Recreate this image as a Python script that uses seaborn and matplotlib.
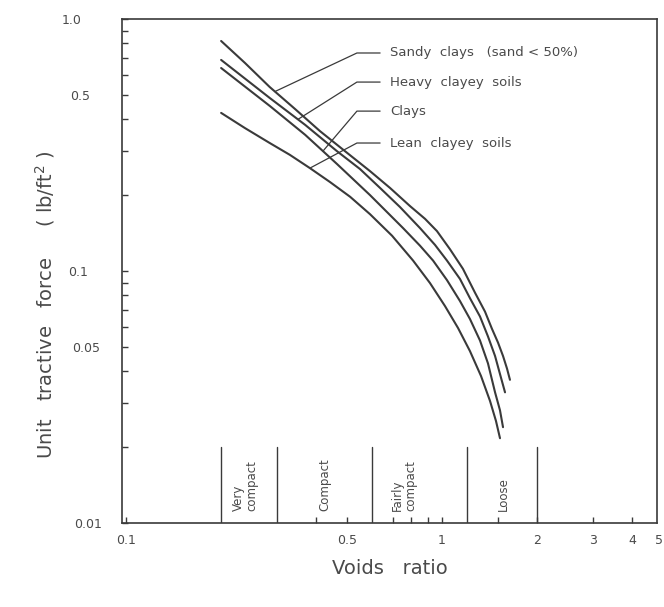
import numpy as np
import pandas as pd
import matplotlib
matplotlib.use("Agg")
import matplotlib.pyplot as plt
import seaborn as sns

# Permissible unit tractive force vs. voids ratio for cohesive soils
soil_names = [
    "Sandy  clays   (sand < 50%)",
    "Heavy  clayey  soils",
    "Clays",
    "Lean  clayey  soils",
]

sandy_ratio = [0.20, 0.238, 0.285, 0.343, 0.411, 0.493, 0.592, 0.685, 0.792, 0.884,
               0.964, 1.060, 1.165, 1.272, 1.368, 1.439, 1.504, 1.560, 1.606, 1.641]
sandy_force = [0.818, 0.669, 0.537, 0.439, 0.359, 0.299, 0.249, 0.2135, 0.181, 0.161,
               0.144, 0.122, 0.102, 0.082, 0.069, 0.059, 0.052, 0.046, 0.041, 0.037]

heavy_ratio = [0.20, 0.285, 0.369, 0.465, 0.550, 0.637, 0.736, 0.852, 0.950, 1.037,
               1.140, 1.226, 1.319, 1.398, 1.472, 1.526, 1.583]
heavy_force = [0.688, 0.486, 0.380, 0.299, 0.254, 0.2135, 0.1795, 0.148, 0.127, 0.110,
               0.093, 0.078, 0.066, 0.055, 0.046, 0.039, 0.033]

clays_ratio = [0.20, 0.285, 0.369, 0.465, 0.592, 0.753, 0.852, 0.937, 1.037, 1.140,
               1.226, 1.319, 1.398, 1.472, 1.526, 1.560]
clays_force = [0.639, 0.452, 0.347, 0.266, 0.200, 0.148, 0.126, 0.110, 0.092, 0.076,
               0.0645, 0.053, 0.043, 0.033, 0.028, 0.024]

lean_ratio = [0.20, 0.238, 0.285, 0.330, 0.382, 0.442, 0.512, 0.592, 0.695, 0.810,
              0.916, 1.022, 1.124, 1.226, 1.329, 1.419, 1.482, 1.526]
lean_force = [0.424, 0.369, 0.322, 0.289, 0.256, 0.2255, 0.197, 0.168, 0.138, 0.110,
              0.0896, 0.0726, 0.0594, 0.0481, 0.0383, 0.0305, 0.0254, 0.0217]

# compaction classes along the voids-ratio axis
zone_edges = [0.2, 0.3, 0.6, 1.2, 2.0]
zone_names = ["Very\ncompact", "Compact", "Fairly\ncompact", "Loose"]

x_ticks = [0.1, 0.4, 0.5, 0.7, 0.8, 0.9, 1.0, 1.5, 2, 3, 4]
x_tick_labels = ["0.1", "", "0.5", "", "", "", "1", "", "2", "3", "4"]
y_ticks = [0.01, 0.05, 0.1, 0.5, 1.0]
y_tick_labels = ["0.01", "0.05", "0.1", "0.5", "1.0"]

ratios = [sandy_ratio, heavy_ratio, clays_ratio, lean_ratio]
forces = [sandy_force, heavy_force, clays_force, lean_force]
frames = [pd.DataFrame({"soil": n, "voids": r, "force": f})
          for n, r, f in zip(soil_names, ratios, forces)]
df = pd.concat(frames, ignore_index=True)

sns.set_style("ticks")
plt.rcParams["font.family"] = ["DejaVu Sans"]
ink = "#3a3a3a"
text_ink = "#4a4a4a"

fig = plt.figure(figsize=(6.64, 6.07), dpi=100)
ax = fig.add_axes([0.1837, 0.1384, 0.8057, 0.8303])

sns.lineplot(data=df, x="voids", y="force", hue="soil", palette=[ink] * 4,
             sort=False, estimator=None, legend=False, linewidth=1.5, ax=ax)

ax.set_xscale("log")
ax.set_yscale("log")
ax.set_xlim(0.0971, 4.79)
ax.set_ylim(0.01, 1.0)

# vertical class dividers and their rotated labels
zone_top = 0.02
for xe in zone_edges:
    ax.plot([xe, xe], [0.01, zone_top], color=ink, lw=1.0)
zone_label_x = [0.238, 0.426, 0.76, 1.56]
for xl, name in zip(zone_label_x, zone_names):
    ax.text(xl, 0.0112, name, rotation=90, ha="center", va="bottom",
            multialignment="left", fontsize=8.5, color=text_ink, linespacing=1.1)

# leader lines from curve labels
label_y = [0.733, 0.562, 0.431, 0.322]
leader_x = [0.296, 0.350, 0.420, 0.382]
elbow_x, arm_x, text_x = 0.538, 0.637, 0.684
for name, r, f, ly, lx in zip(soil_names, ratios, forces, label_y, leader_x):
    cy = 10 ** np.interp(np.log10(lx), np.log10(r), np.log10(f))
    ax.plot([lx, elbow_x, arm_x], [cy, ly, ly], color=ink, lw=0.9)
    ax.text(text_x, ly, name, ha="left", va="center", fontsize=9.5,
            color=text_ink)

# axes frame and ticks
for sp in ax.spines.values():
    sp.set_color(ink)
    sp.set_linewidth(1.2)

ax.xaxis.set_minor_locator(matplotlib.ticker.NullLocator())
ax.yaxis.set_minor_locator(matplotlib.ticker.NullLocator())
ax.set_xticks(x_ticks)
ax.set_xticklabels(x_tick_labels)
ax.set_yticks(y_ticks)
ax.set_yticklabels(y_tick_labels)
ax.set_yticks([0.02, 0.03, 0.04, 0.06, 0.07, 0.08, 0.09,
               0.2, 0.3, 0.4, 0.6, 0.7, 0.8, 0.9], minor=True)
ax.tick_params(axis="both", which="both", direction="in", length=4,
               width=1.0, color=ink, labelsize=9, labelcolor=text_ink)
ax.tick_params(axis="x", pad=8)
for tick, pad in zip(ax.yaxis.get_major_ticks(), [14.5, 16, 24.5, 23, 29]):
    tick.set_pad(pad)

ax.annotate("5", xy=(5.0, 0.01), xytext=(-3, -8), textcoords="offset points",
            ha="center", va="top", fontsize=9, color=text_ink,
            annotation_clip=False)

ax.set_xlabel("")
ax.set_ylabel("")
fig.text(0.587, 0.064, "Voids   ratio", ha="center", va="center",
         fontsize=14, color=text_ink)
fig.text(0.068, 0.4975, r"Unit   tractive   force     ( lb/ft$^{2}$ )",
         rotation=90, ha="center", va="center", fontsize=14, color=text_ink)

fig.savefig("out.png", dpi=100)
